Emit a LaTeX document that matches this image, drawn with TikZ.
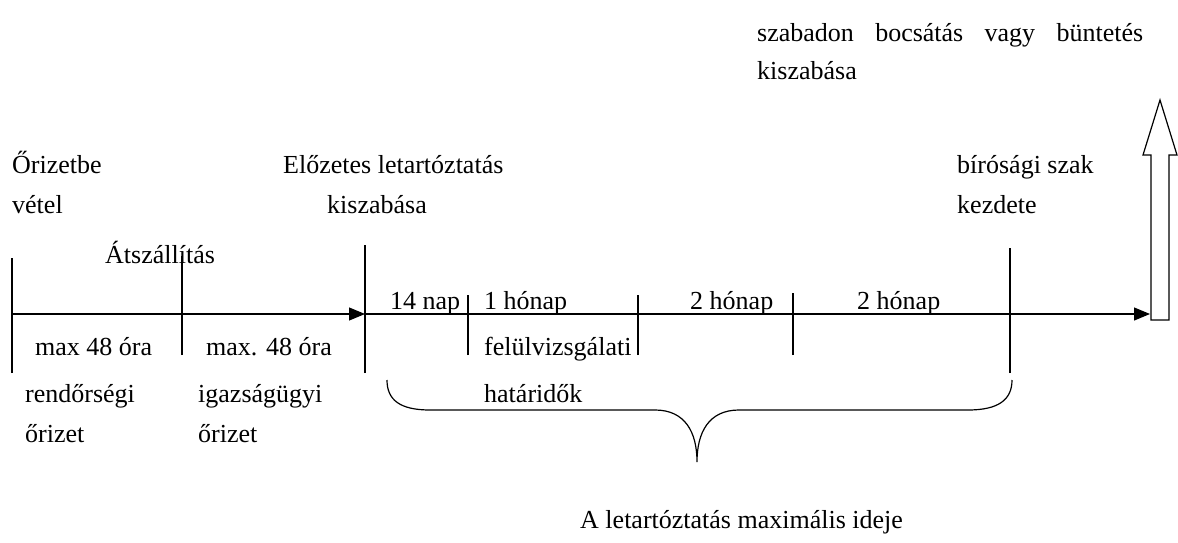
\documentclass[tikz,border=0pt]{standalone}
\usepackage{fontspec}
\setmainfont{Liberation Serif}
\usetikzlibrary{arrows.meta}
\begin{document}
\begin{tikzpicture}[x=1pt,y=-1pt,
  lbl/.style={anchor=base west,inner sep=0pt,font=\fontsize{26}{32}\selectfont},
  axis/.style={line width=1.2pt,-{Triangle[length=16pt,width=13pt]}},
  tick/.style={line width=1.2pt},
  brace/.style={line width=1.2pt}]
\useasboundingbox (0,0) rectangle (1178,543);
% coordinates
\coordinate (a0) at (12,314);
\coordinate (a1) at (182,314);
\coordinate (a2) at (365,314);
\coordinate (a3) at (468,314);
\coordinate (a4) at (638,314);
\coordinate (a5) at (793,314);
\coordinate (a6) at (1010,314);
\coordinate (aend) at (1150,314);
% axis
\draw[axis] (a0) -- (a2);
\draw[axis] (a2) -- (aend);
% ticks
\draw[tick] ([yshift=-59pt]a0) -- ([yshift=56pt]a0);
\draw[tick] ([yshift=-41pt]a1) -- ([yshift=58pt]a1);
\draw[tick] ([yshift=-59pt]a2) -- ([yshift=69pt]a2);
\draw[tick] ([yshift=-41pt]a3) -- ([yshift=19pt]a3);
\draw[tick] ([yshift=-41pt]a4) -- ([yshift=19pt]a4);
\draw[tick] ([yshift=-41pt]a5) -- ([yshift=21pt]a5);
\draw[tick] ([yshift=-59pt]a6) -- ([yshift=66pt]a6);
% hollow up arrow
\draw[line width=1.2pt,fill=white] (1151,320) -- (1151,155) -- (1143,155) -- (1160,100) -- (1177,155) -- (1169,155) -- (1169,320) -- cycle;
% brace
\draw[brace] (387,380) .. controls (387,400) and (400,410) .. (430,410) -- (655,410)
  .. controls (685,410) and (697,432) .. (697,462)
  .. controls (697,432) and (709,410) .. (739,410) -- (968,410)
  .. controls (998,410) and (1012,400) .. (1012,380);
% texts
\node[lbl] (t1) at (757,42) {\makebox[386pt][s]{szabadon bocsátás vagy büntetés}};
\node[lbl] (t2) at (757,80) {kiszabása};
\node[lbl] (t3) at (12,173) {Őrizetbe};
\node[lbl] (t4) at (12,213) {vétel};
\node[lbl] (t5) at (105,263) {Átszállítás};
\node[lbl] (t6) at (283,173) {Előzetes letartóztatás};
\node[lbl] (t7) at (327,213) {kiszabása};
\node[lbl] (t8) at (957,173) {bírósági szak};
\node[lbl] (t9) at (957,213) {kezdete};
\node[lbl] (t10) at (390,309) {14 nap};
\node[lbl] (t11) at (484,309) {1 hónap};
\node[lbl] (t12) at (690,309) {2 hónap};
\node[lbl] (t13) at (857,309) {2 hónap};
\node[lbl] (t14) at (35,355) {max 48 óra};
\node[lbl] (t15) at (206,355) {max. 48 óra};
\node[lbl] (t16) at (25,402) {rendőrségi};
\node[lbl] (t17) at (25,442) {őrizet};
\node[lbl] (t18) at (198,402) {igazságügyi};
\node[lbl] (t19) at (198,442) {őrizet};
\node[lbl] (t20) at (484,355) {felülvizsgálati};
\node[lbl] (t21) at (484,402) {határidők};
\node[lbl] (t22) at (580,528) {A letartóztatás maximális ideje};
\end{tikzpicture}
\end{document}
